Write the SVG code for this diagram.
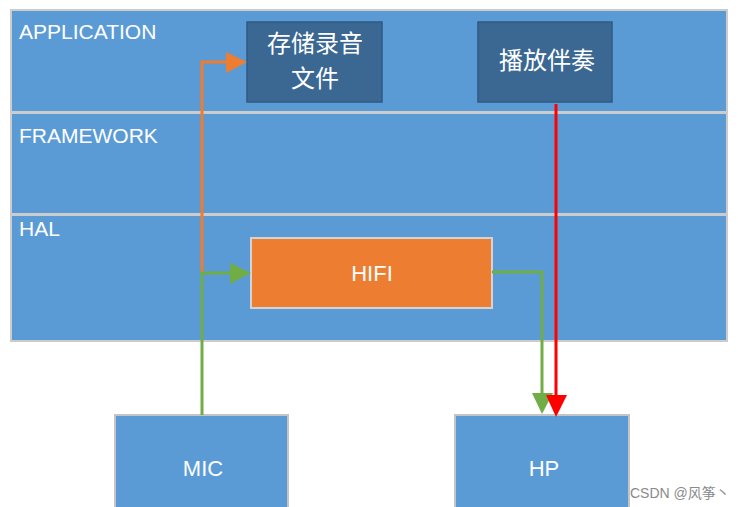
<svg xmlns="http://www.w3.org/2000/svg" width="738" height="507" viewBox="0 0 738 507">
<defs>
<style>
.layer{fill:#5b9bd5;stroke:#cccccc;stroke-width:2}
.lt{font-family:"Liberation Sans",Arial,sans-serif;font-size:21px;fill:#ffffff}
.app{fill:#3a6892;stroke:#2f5a82;stroke-width:1.5}
.cj{font-family:"Noto Sans CJK SC","Liberation Sans",sans-serif;font-size:24px;fill:#ffffff;text-anchor:middle}
.dev{fill:#5b9bd5;stroke:#c4c4c4;stroke-width:2}
.nt{font-family:"Liberation Sans",Arial,sans-serif;font-size:22px;fill:#ffffff;text-anchor:middle}
.ln{fill:none;stroke-width:3}
</style>
<marker id="aO" markerWidth="8" markerHeight="8" refX="7" refY="4" orient="auto" markerUnits="userSpaceOnUse" viewBox="0 0 8 8"><path d="M0,0 L8,4 L0,8 Z" fill="#ed7d31"/></marker>
</defs>
<rect x="0" y="0" width="738" height="507" fill="#ffffff"/>
<g id="layer-application"><rect class="layer" x="11" y="10" width="716" height="102"/><text class="lt" x="19" y="39">APPLICATION</text></g>
<g id="layer-framework"><rect class="layer" x="11" y="113" width="716" height="101"/><text class="lt" x="19" y="143">FRAMEWORK</text></g>
<g id="layer-hal"><rect class="layer" x="11" y="215" width="716" height="126"/><text class="lt" x="19" y="236">HAL</text></g>
<g id="store"><rect class="app" x="247" y="22" width="135" height="80"/><text class="cj" x="315" y="52">存储录音</text><text class="cj" x="315" y="87">文件</text></g>
<g id="play"><rect class="app" x="478" y="22" width="134" height="80"/><text class="cj" x="547" y="69">播放伴奏</text></g>
<g id="hifi"><rect x="251" y="238" width="241" height="70" fill="#ed7d31" stroke="#d3d3d3" stroke-width="2"/><text class="nt" x="372" y="281">HIFI</text></g>
<g id="mic"><rect class="dev" x="115" y="415" width="173" height="100"/><text class="nt" x="203" y="476">MIC</text></g>
<g id="hp"><rect class="dev" x="455" y="415" width="174" height="100"/><text class="nt" x="544" y="476">HP</text></g>
<g id="connectors">
<path class="ln" stroke="#ed7d31" d="M202,272 V62 H228"/>
<polygon points="226,52 247,62 226,73" fill="#ed7d31"/>
<path class="ln" stroke="#70ad47" d="M202,415 V273 H232"/>
<polygon points="230,263 251,273 230,284" fill="#70ad47"/>
<path class="ln" stroke="#70ad47" d="M492,272 H542 V396"/>
<polygon points="532,393 553,393 542,414" fill="#70ad47"/>
<path class="ln" stroke="#ff0000" d="M556,104 V398"/>
<polygon points="546,395 567,395 556,417" fill="#ff0000"/>
</g>
<text x="630" y="498" font-family="'Liberation Sans','Noto Sans CJK SC',sans-serif" font-size="14" fill="#8a8a8a">CSDN @风筝丶</text>
</svg>
